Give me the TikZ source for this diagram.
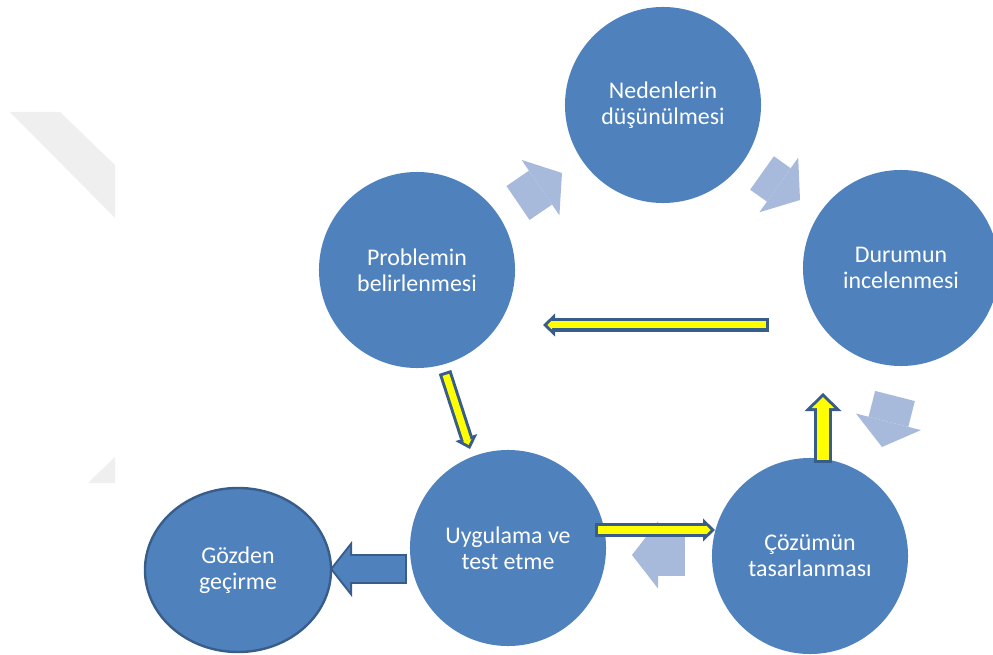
\documentclass[tikz,border=0pt]{standalone}
\usepackage{fontspec}
\setmainfont{Carlito}
\usetikzlibrary{arrows.meta,shapes.geometric}
\definecolor{CycleBlue}{HTML}{4F81BD}
\definecolor{EdgeBlue} {HTML}{385D8A}
\definecolor{PaleBlue} {HTML}{A7BADB}
\definecolor{MarkGray} {HTML}{EFEFEF}
\definecolor{HiYellow} {HTML}{FFFF00}
\tikzset{
  stage/.style={circle,fill=CycleBlue,minimum size=4.9cm,inner sep=0pt,
                align=center,text=white,font=\fontsize{17}{18.5}\selectfont},
  review/.style={ellipse,fill=CycleBlue,draw=EdgeBlue,line width=0.06cm,
                 minimum width=4.65cm,minimum height=4.1cm,inner sep=0pt,
                 align=center,text=white,font=\fontsize{17}{18.5}\selectfont},
  cyc/.style={draw=PaleBlue,line width=1.025cm,
              -{Triangle[length=0.65cm,width=1.675cm,line width=0pt]}},
  hlout/.style={draw=EdgeBlue,line width=0.325cm,
                -{Triangle[length=0.3cm,width=0.575cm,line width=0pt]}},
  hlin/.style={draw=HiYellow,line width=0.175cm,shorten <=0.075cm,shorten >=0.108cm,
               -{Triangle[length=0.117cm,width=0.224cm,line width=0pt]}},
  bigout/.style={draw=EdgeBlue,line width=0.45cm,
                 -{Triangle[length=0.45cm,width=0.925cm,line width=0pt]}},
  bigin/.style={draw=HiYellow,line width=0.3cm,shorten <=0.075cm,shorten >=0.105cm,
                -{Triangle[length=0.27cm,width=0.555cm,line width=0pt]}},
  blkout/.style={draw=EdgeBlue,line width=0.75cm,
                 -{Triangle[length=0.55cm,width=1.4cm,line width=0pt]}},
  blkin/.style={draw=CycleBlue,line width=0.65cm,shorten <=0.05cm,shorten >=0.064cm,
                -{Triangle[length=0.436cm,width=1.11cm,line width=0pt]}},
}

\begin{document}
\begin{tikzpicture}[x=0.025cm,y=-0.025cm]

  \useasboundingbox (0,0) rectangle (993,655);

  % faint mark on the left
  \fill[MarkGray] (10,112) -- (60,112) -- (115,165) -- (115,218) -- cycle;
  \fill[MarkGray] (88,483) -- (115,483) -- (115,457) -- cycle;

  % cycle arrows
  \coordinate (p1a) at (518,203); \coordinate (p1b) at (562,173);
  \coordinate (p2a) at (762,173); \coordinate (p2b) at (800,200);
  \coordinate (p3a) at (895,396); \coordinate (p3b) at (882,447);
  \coordinate (p4a) at (685,555); \coordinate (p4b) at (632,555);
  \draw[cyc] (p1a) -- (p1b);
  \draw[cyc] (p2a) -- (p2b);
  \draw[cyc] (p3a) -- (p3b);
  \draw[cyc] (p4a) -- (p4b);

  % review arrow
  \coordinate (ga) at (407,569); \coordinate (gb) at (330,569);
  \draw[blkout] (ga) -- (gb);
  \draw[blkin] (ga) -- (gb);

  % stages
  \node[stage] (ned) at (663,105) {Nedenlerin\\düşünülmesi};
  \node[stage] (dur) at (901,268) {Durumun\\incelenmesi};
  \node[stage] (coz) at (810,556) {Çözümün\\tasarlanması};
  \node[stage] (uyg) at (508,548) {Uygulama ve\\test etme};
  \node[stage] (prb) at (417,270) {Problemin\\belirlenmesi};
  \node[review] (goz) at (238,570) {Gözden\\geçirme};

  % highlighted path
  \coordinate (ya) at (769,325); \coordinate (yb) at (543,325);
  \coordinate (yc) at (445,372); \coordinate (yd) at (470,449);
  \coordinate (ye) at (595,530); \coordinate (yf) at (715,530);
  \coordinate (yg) at (823,463); \coordinate (yh) at (823,393);
  \draw[hlout] (ya) -- (yb);  \draw[hlin] (ya) -- (yb);
  \draw[hlout] (yc) -- (yd);  \draw[hlin] (yc) -- (yd);
  \draw[hlout] (ye) -- (yf);  \draw[hlin] (ye) -- (yf);
  \draw[bigout] (yg) -- (yh); \draw[bigin] (yg) -- (yh);

\end{tikzpicture}
\end{document}
